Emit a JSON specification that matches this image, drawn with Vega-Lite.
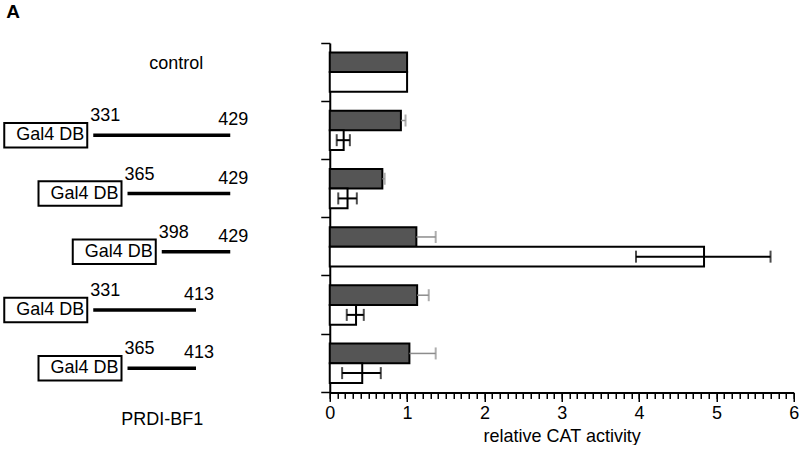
{
  "$schema": "https://vega.github.io/schema/vega-lite/v6.json",
  "padding": {"left": 3, "top": 3, "right": 0, "bottom": 0},
  "background": "white",
  "title": {"text": "A", "anchor": "start", "fontSize": 19, "fontWeight": "bold", "font": "Liberation Sans", "dx": 3, "offset": 20, "color": "black"},
  "datasets": {
    "constructs": [
      {"construct": "control", "fusion": null, "start": null, "end": null},
      {"construct": "331-429", "fusion": "Gal4 DB", "start": 331, "end": 429},
      {"construct": "365-429", "fusion": "Gal4 DB", "start": 365, "end": 429},
      {"construct": "398-429", "fusion": "Gal4 DB", "start": 398, "end": 429},
      {"construct": "331-413", "fusion": "Gal4 DB", "start": 331, "end": 413},
      {"construct": "365-413", "fusion": "Gal4 DB", "start": 365, "end": 413}
    ],
    "activity": [
      {"construct": "control", "series": "filled", "value": 1.0, "lo": null, "hi": null},
      {"construct": "control", "series": "open", "value": 1.0, "lo": null, "hi": null},
      {"construct": "331-429", "series": "filled", "value": 0.92, "lo": 0.86, "hi": 0.98},
      {"construct": "331-429", "series": "open", "value": 0.18, "lo": 0.09, "hi": 0.26},
      {"construct": "365-429", "series": "filled", "value": 0.68, "lo": 0.65, "hi": 0.71},
      {"construct": "365-429", "series": "open", "value": 0.23, "lo": 0.11, "hi": 0.35},
      {"construct": "398-429", "series": "filled", "value": 1.12, "lo": 0.87, "hi": 1.37},
      {"construct": "398-429", "series": "open", "value": 4.84, "lo": 3.96, "hi": 5.70},
      {"construct": "331-413", "series": "filled", "value": 1.13, "lo": 0.98, "hi": 1.28},
      {"construct": "331-413", "series": "open", "value": 0.34, "lo": 0.22, "hi": 0.44},
      {"construct": "365-413", "series": "filled", "value": 1.03, "lo": 0.69, "hi": 1.37},
      {"construct": "365-413", "series": "open", "value": 0.42, "lo": 0.16, "hi": 0.66}
    ]
  },
  "spacing": 64.75,
  "bounds": "flush",
  "hconcat": [
    {
      "width": 205.5,
      "height": 349.4,
      "data": {"name": "constructs"},
      "encoding": {
        "y": {"field": "construct", "type": "nominal", "sort": null, "scale": {"paddingInner": 0, "paddingOuter": 0}, "axis": null}
      },
      "layer": [
        {
          "transform": [{"filter": "datum.start == null"}],
          "mark": {"type": "text", "fontSize": 18, "align": "center", "baseline": "middle", "dx": 14.5, "dy": -8},
          "encoding": {
            "x": {"value": {"expr": "concat_0_width / 2"}},
            "text": {"field": "construct"}
          }
        },
        {
          "transform": [{"filter": "datum.start != null"}],
          "mark": {"type": "rect", "fill": "white", "stroke": "black", "strokeWidth": 2, "height": 24.5, "xOffset": -89, "x2Offset": -6, "yOffset": 5},
          "encoding": {
            "x": {"field": "start", "type": "ordinal", "scale": {"type": "point", "domain": [331, 365, 398, 413, 429], "padding": 1}, "axis": {"title": "PRDI-BF1", "domain": false, "ticks": false, "labels": false, "grid": false, "titleFontSize": 18, "titleFontWeight": "normal", "titlePadding": 18}},
            "x2": {"field": "start"}
          }
        },
        {
          "transform": [{"filter": "datum.start != null"}],
          "mark": {"type": "text", "fontSize": 18, "align": "right", "baseline": "middle", "dx": -9, "dy": 5},
          "encoding": {
            "x": {"field": "start", "type": "ordinal", "title": "PRDI-BF1"},
            "text": {"field": "fusion"}
          }
        },
        {
          "transform": [{"filter": "datum.start != null"}],
          "mark": {"type": "rule", "strokeWidth": 3.5, "color": "black", "yOffset": 5},
          "encoding": {
            "x": {"field": "start", "type": "ordinal", "title": "PRDI-BF1"},
            "x2": {"field": "end"}
          }
        },
        {
          "transform": [{"filter": "datum.start != null"}],
          "mark": {"type": "text", "fontSize": 18, "align": "left", "baseline": "middle", "dx": -3, "dy": -14},
          "encoding": {
            "x": {"field": "start", "type": "ordinal", "title": "PRDI-BF1"},
            "text": {"field": "start"}
          }
        },
        {
          "transform": [{"filter": "datum.end != null"}],
          "mark": {"type": "text", "fontSize": 18, "align": "left", "baseline": "middle", "dx": -12, "dy": -10},
          "encoding": {
            "x": {"field": "end", "type": "ordinal", "title": "PRDI-BF1"},
            "text": {"field": "end"}
          }
        }
      ]
    },
    {
      "width": 464,
      "height": 349.4,
      "data": {"name": "activity"},
      "resolve": {"axis": {"x": "independent"}},
      "encoding": {
        "y": {"field": "construct", "type": "nominal", "sort": null, "scale": {"paddingInner": 0, "paddingOuter": 0}, "axis": {"labels": false, "title": null, "bandPosition": 1, "tickExtra": true, "tickSize": 9, "tickWidth": 1.5, "domainWidth": 2}},
        "yOffset": {"field": "series", "type": "nominal", "sort": null, "scale": {"paddingInner": 0, "paddingOuter": 0.48}}
      },
      "layer": [
        {
          "mark": {"type": "bar", "stroke": "black", "strokeWidth": 2},
          "encoding": {
            "x": {"field": "value", "type": "quantitative", "title": "relative CAT activity", "scale": {"domain": [0, 6], "nice": false},
              "axis": {"orient": "bottom", "values": [0, 1, 2, 3, 4, 5, 6], "tickCount": 7, "tickSize": 9, "labelFontSize": 18, "titleFontSize": 18, "titleFontWeight": "normal", "labelPadding": 3, "tickWidth": 1.5, "domainWidth": 2, "labelFlush": false, "labelOverlap": false, "grid": false, "titlePadding": 5}},
            "fill": {"field": "series", "type": "nominal", "scale": {"domain": ["filled", "open"], "range": ["#555555", "#ffffff"]}, "legend": null}
          }
        },
        {
          "transform": [{"filter": "datum.series == 'open' && datum.lo != null"}],
          "mark": {"type": "rule", "strokeWidth": 2, "color": "black"},
          "encoding": {
            "x": {"field": "lo", "type": "quantitative", "axis": null},
            "x2": {"field": "hi"}
          }
        },
        {
          "transform": [{"filter": "datum.series == 'filled' && datum.hi != null"}],
          "mark": {"type": "rule", "strokeWidth": 1.5, "color": "#8c8c8c"},
          "encoding": {
            "x": {"field": "value", "type": "quantitative", "axis": null},
            "x2": {"field": "hi"}
          }
        },
        {
          "transform": [{"filter": "datum.hi != null"}],
          "mark": {"type": "tick", "thickness": 2, "size": 12, "orient": "vertical"},
          "encoding": {
            "x": {"field": "hi", "type": "quantitative", "axis": null},
            "color": {"field": "series", "type": "nominal", "scale": {"domain": ["filled", "open"], "range": ["#8c8c8c", "#000000"]}, "legend": null}
          }
        },
        {
          "transform": [{"filter": "datum.series == 'open' && datum.lo != null"}],
          "mark": {"type": "tick", "thickness": 2, "size": 12, "orient": "vertical", "color": "black"},
          "encoding": {
            "x": {"field": "lo", "type": "quantitative", "title": null,
              "axis": {"orient": "bottom", "values": [0, 0.1, 0.2, 0.3, 0.4, 0.5, 0.6, 0.7, 0.8, 0.9, 1, 1.1, 1.2, 1.3, 1.4, 1.5, 1.6, 1.7, 1.8, 1.9, 2, 2.1, 2.2, 2.3, 2.4, 2.5, 2.6, 2.7, 2.8, 2.9, 3, 3.1, 3.2, 3.3, 3.4, 3.5, 3.6, 3.7, 3.8, 3.9, 4, 4.1, 4.2, 4.3, 4.4, 4.5, 4.6, 4.7, 4.8, 4.9, 5, 5.1, 5.2, 5.3, 5.4, 5.5, 5.6, 5.7, 5.8, 5.9, 6], "tickCount": 61, "ticks": true, "labels": false, "domain": false, "title": null, "tickSize": 6, "tickWidth": 1.5, "tickColor": "#000000", "tickOpacity": 1, "grid": false, "zindex": 2}}
          }
        }
      ]
    }
  ],
  "config": {
    "view": {"stroke": null},
    "font": "Liberation Sans",
    "axis": {"domainColor": "black", "tickColor": "black", "labelColor": "black", "titleColor": "black", "labelFont": "Liberation Sans", "titleFont": "Liberation Sans"},
    "text": {"font": "Liberation Sans", "fontSize": 18, "color": "black"}
  }
}
